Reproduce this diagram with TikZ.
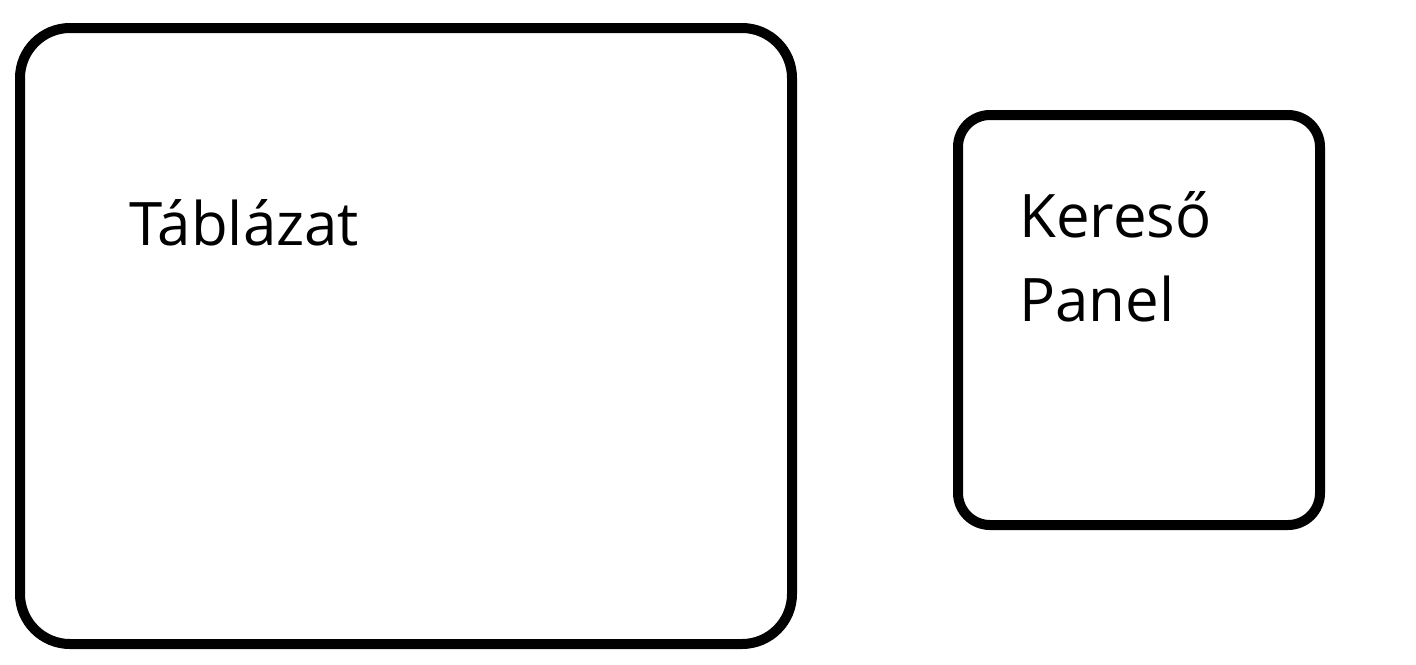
\documentclass[tikz,border=0pt]{standalone}
\usepackage{fontspec}
\setmainfont{Open Sans}

\tikzset{
  panel/.style={line width=5pt,rounded corners=25pt},
  felirat/.style={anchor=base west,inner sep=0pt,font=\fontsize{30}{42}\selectfont}
}

\begin{document}
\begin{tikzpicture}[x=0.5pt,y=-0.5pt]

% Keret
\useasboundingbox (0,0) rectangle (1416,664);

% Táblázat doboz
\draw[panel] (20,28) rectangle (792,644);
\node[felirat] (tabla) at (129,245) {Táblázat};

% Kereső panel doboz
\draw[panel,rounded corners=16pt] (958,115) rectangle (1320,525);
\node[felirat] (kereso) at (1019,237) {Kereső};
\node[felirat] (panel) at (1019,321) {Panel};

\end{tikzpicture}
\end{document}
